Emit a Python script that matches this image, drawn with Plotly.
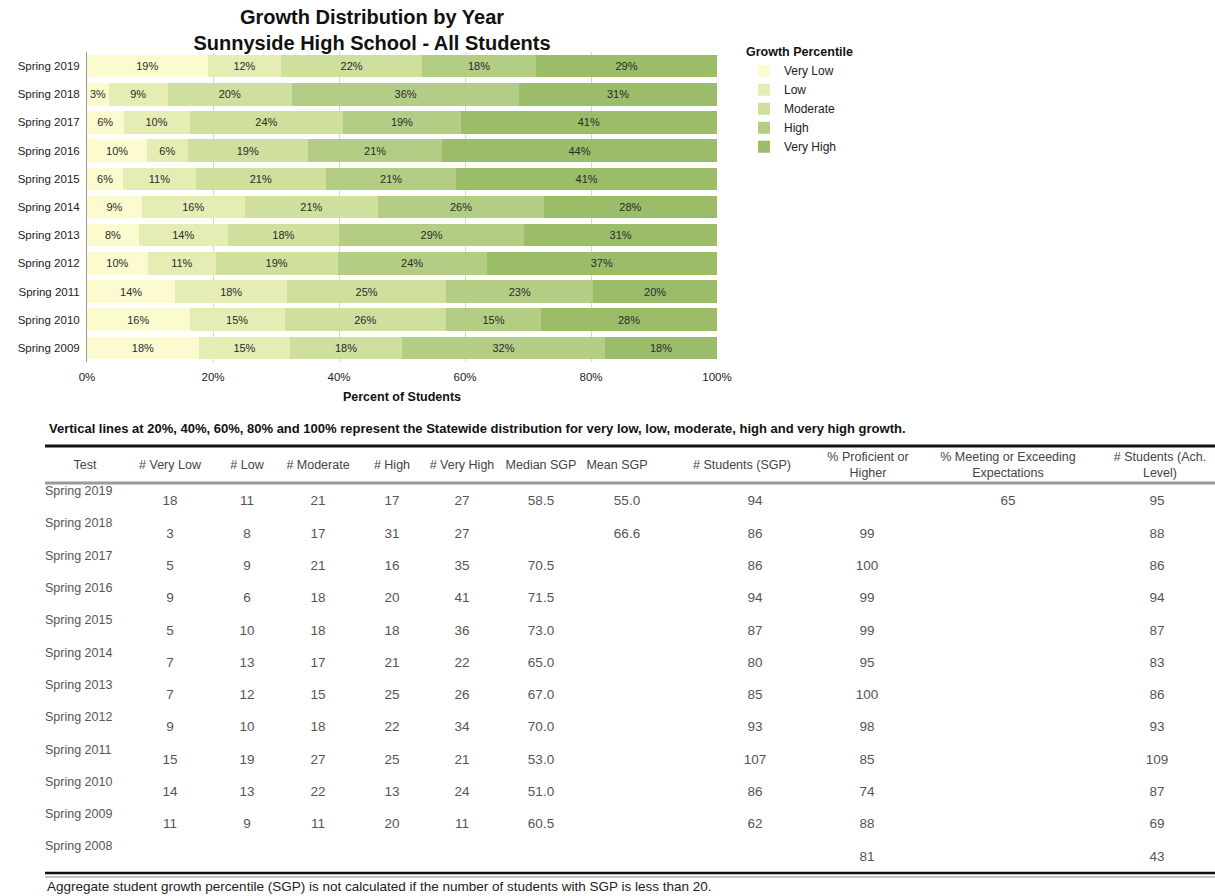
import plotly.graph_objects as go

# ---------------- data ----------------
tests = ["Spring 2019", "Spring 2018", "Spring 2017", "Spring 2016", "Spring 2015",
         "Spring 2014", "Spring 2013", "Spring 2012", "Spring 2011", "Spring 2010",
         "Spring 2009", "Spring 2008"]
categories = ["Very Low", "Low", "Moderate", "High", "Very High"]

very_low = [18, 3, 5, 9, 5, 7, 7, 9, 15, 14, 11, None]
low = [11, 8, 9, 6, 10, 13, 12, 10, 19, 13, 9, None]
moderate = [21, 17, 21, 18, 18, 17, 15, 18, 27, 22, 11, None]
high = [17, 31, 16, 20, 18, 21, 25, 22, 25, 13, 20, None]
very_high = [27, 27, 35, 41, 36, 22, 26, 34, 21, 24, 11, None]
median_sgp = ["58.5", "", "70.5", "71.5", "73.0", "65.0", "67.0", "70.0", "53.0", "51.0", "60.5", ""]
mean_sgp = ["55.0", "66.6", "", "", "", "", "", "", "", "", "", ""]
students_sgp = [94, 86, 86, 94, 87, 80, 85, 93, 107, 86, 62, None]
pct_proficient = [None, 99, 100, 99, 99, 95, 100, 98, 85, 74, 88, 81]
pct_meeting = [65, None, None, None, None, None, None, None, None, None, None, None]
students_ach = [95, 88, 86, 94, 87, 83, 86, 93, 109, 87, 69, 43]

header_labels = ["Test", "# Very Low", "# Low", "# Moderate", "# High", "# Very High",
                 "Median SGP", "Mean SGP", "# Students (SGP)", "% Proficient or<br>Higher",
                 "% Meeting or Exceeding<br>Expectations", "# Students (Ach.<br>Level)"]
x_ticks = [0, 20, 40, 60, 80, 100]
x_tick_text = ["0%", "20%", "40%", "60%", "80%", "100%"]

# ---------------- styles ----------------
FONT = "Arial, 'Liberation Sans', sans-serif"
colors = ["#FCFBCF", "#E5EDB5", "#CEDF9E", "#B3CD85", "#9BBD69"]
W, H = 1215, 896

count_series = [very_low, low, moderate, high, very_high]
chart_tests = tests[:11]

fig = go.Figure()

for name, series, col in zip(categories, count_series, colors):
    pct = []
    for i in range(len(chart_tests)):
        total = sum(s[i] for s in count_series)
        pct.append(series[i] / total * 100)
    fig.add_trace(go.Bar(
        y=chart_tests, x=pct, name=name, orientation="h",
        marker=dict(color=col, line=dict(width=0)),
        text=[f"{int(p + 0.5)}%" for p in pct],
        textposition="inside", insidetextanchor="middle", textangle=0,
        textfont=dict(family=FONT, size=11, color="#2a2a2a"),
        hoverinfo="skip", xaxis="x", yaxis="y",
    ))

# ---------------- table as text traces on an overlay pixel axis ----------------
col_x = [45, 170, 247, 318, 392, 462, 541, 627, 755, 867, 1008, 1157]
head_x = [85, 170, 247, 318, 392, 462, 541, 617, 742, 868, 1008, 1160]
row_label_y = [492 + 32.3 * i for i in range(len(tests))]
row_val_y = [y + 10 for y in row_label_y]


def fmt(v):
    return "" if v is None or v == "" else str(v)


fig.add_trace(go.Scatter(
    x=[col_x[0]] * len(tests), y=row_label_y, text=tests, mode="text",
    textposition="middle right", textfont=dict(family=FONT, size=12.5, color="#555"),
    hoverinfo="skip", showlegend=False, xaxis="x2", yaxis="y2", cliponaxis=False))

value_cols = [very_low, low, moderate, high, very_high, median_sgp, mean_sgp,
              students_sgp, pct_proficient, pct_meeting, students_ach]
for cx, col in zip(col_x[1:], value_cols):
    fig.add_trace(go.Scatter(
        x=[cx] * len(tests), y=row_val_y, text=[fmt(v) for v in col], mode="text",
        textposition="middle center", textfont=dict(family=FONT, size=13.5, color="#555"),
        hoverinfo="skip", showlegend=False, xaxis="x2", yaxis="y2", cliponaxis=False))

fig.add_trace(go.Scatter(
    x=head_x, y=[466] * len(header_labels), text=header_labels, mode="text",
    textposition="middle center", textfont=dict(family=FONT, size=12.5, color="#444"),
    hoverinfo="skip", showlegend=False, xaxis="x2", yaxis="y2", cliponaxis=False))

shapes = [
    dict(type="line", xref="x2", yref="y2", x0=45, x1=1215, y0=446, y1=446,
         line=dict(color="#111", width=3)),
    dict(type="line", xref="x2", yref="y2", x0=45, x1=1215, y0=483, y1=483,
         line=dict(color="#999", width=3)),
    dict(type="line", xref="x2", yref="y2", x0=45, x1=1215, y0=873, y1=873,
         line=dict(color="#111", width=2.5)),
    dict(type="line", xref="x2", yref="y2", x0=45, x1=1215, y0=877, y1=877,
         line=dict(color="#888", width=1)),
]

annotations = [
    dict(xref="x2", yref="y2", x=47, y=428, xanchor="left", yanchor="middle", showarrow=False,
         text="<b>Vertical lines at 20%, 40%, 60%, 80% and 100% represent the Statewide distribution for very low, low, moderate, high and very high growth.</b>",
         font=dict(family=FONT, size=13, color="#111")),
    dict(xref="x2", yref="y2", x=45, y=886, xanchor="left", yanchor="middle", showarrow=False,
         text="Aggregate student growth percentile (SGP) is not calculated if the number of students with SGP is less than 20.",
         font=dict(family=FONT, size=13.5, color="#222")),
]

y_top, y_bot = 52, 362
x_left, x_right = 87, 717

fig.update_layout(
    width=W, height=H,
    margin=dict(l=0, r=0, t=0, b=0, autoexpand=False),
    paper_bgcolor="white", plot_bgcolor="rgba(0,0,0,0)",
    barmode="stack", bargap=0.2,
    title=dict(text="<b>Growth Distribution by Year<br>Sunnyside High School - All Students</b>",
               x=372 / W, xanchor="center", y=1 - 24 / H, yanchor="middle",
               font=dict(family=FONT, size=20, color="#111")),
    xaxis=dict(domain=[x_left / W, x_right / W], range=[0, 100], tickvals=x_ticks,
               ticktext=x_tick_text, showgrid=True, gridcolor="#d6d6d6", gridwidth=1,
               zeroline=False, showline=False, ticks="", layer="below traces",
               ticklabelstandoff=6,
               tickfont=dict(family=FONT, size=11.5, color="#222"),
               title=dict(text="<b>Percent of Students</b>", standoff=10,
                          font=dict(family=FONT, size=12.5, color="#111")),
               automargin=False, anchor="y", fixedrange=True),
    yaxis=dict(domain=[1 - y_bot / H, 1 - y_top / H], categoryorder="array",
               categoryarray=chart_tests[::-1], showgrid=False, zeroline=False,
               showline=True, linecolor="#999", linewidth=1, layer="below traces",
               ticks="", ticklabelstandoff=4, automargin=False,
               tickfont=dict(family=FONT, size=11.5, color="#222"), anchor="x", fixedrange=True),
    xaxis2=dict(domain=[0, 1], range=[0, W], visible=False, anchor="y2", fixedrange=True),
    yaxis2=dict(domain=[0, 1], range=[H, 0], visible=False, anchor="x2", fixedrange=True),
    legend=dict(x=744 / W, y=1 - 40 / H, xanchor="left", yanchor="top",
                title=dict(text="<b>Growth Percentile</b>", font=dict(family=FONT, size=12.5, color="#111")),
                font=dict(family=FONT, size=12, color="#222"), traceorder="normal",
                bgcolor="rgba(0,0,0,0)", itemwidth=30, tracegroupgap=0),
    shapes=shapes, annotations=annotations,
    showlegend=True,
)

fig.write_html(
    "out.html",
    config={"displayModeBar": False},
    post_script="document.body.style.margin='0';document.body.style.overflow='hidden';",
)
